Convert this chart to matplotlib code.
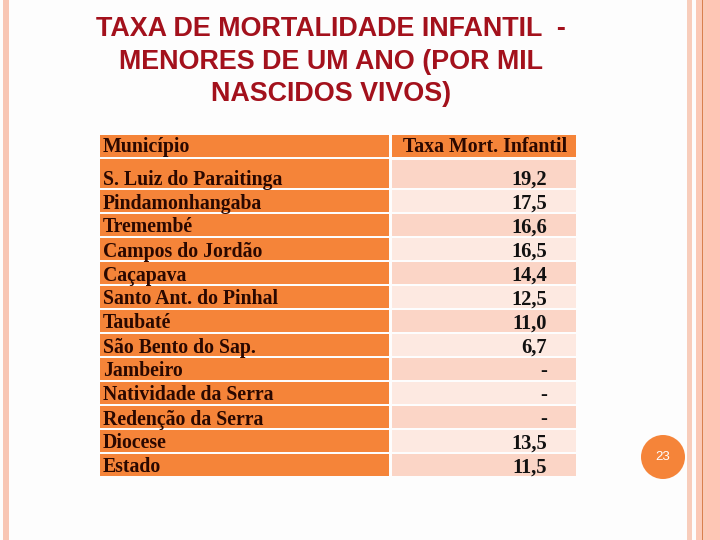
import matplotlib
matplotlib.use("Agg")
import matplotlib.pyplot as plt
from matplotlib.patches import Rectangle, Circle

# ---- data ----
title_lines = ["TAXA DE MORTALIDADE INFANTIL  -",
               "MENORES DE UM ANO (POR MIL",
               "NASCIDOS VIVOS)"]
col_headers = ["Município", "Taxa Mort. Infantil"]
municipios = ["S. Luiz do Paraitinga", "Pindamonhangaba", "Tremembé",
              "Campos do Jordão", "Caçapava", "Santo Ant. do Pinhal",
              "Taubaté", "São Bento do Sap.", "Jambeiro",
              "Natividade da Serra", "Redenção da Serra", "Diocese", "Estado"]
taxas = [19.2, 17.5, 16.6, 16.5, 14.4, 12.5, 11.0, 6.7, None, None, None, 13.5, 11.5]
page_number = "23"

# ---- styles ----
ORANGE = "#F58439"
PINK_A = "#FBD5C6"
PINK_B = "#FDE9E1"
TITLE_RED = "#A3111C"
TXT_DARK = "#2A0800"

fig = plt.figure(figsize=(7.2, 5.4), dpi=100)
ax = fig.add_axes([0, 0, 1, 1])
ax.set_xlim(0, 720)
ax.set_ylim(540, 0)
ax.axis("off")
fig.patch.set_facecolor("#FDFDFD")

# decorative stripes
ax.add_patch(Rectangle((3, 0), 6, 540, color="#F8C6B4", lw=0))
ax.add_patch(Rectangle((687, 0), 5, 540, color="#F8CDBB", lw=0))
ax.add_patch(Rectangle((696, 0), 24, 540, color="#FBC9B6", lw=0))
ax.add_patch(Rectangle((707, 0), 13, 540, color="#FEC6B5", lw=0))
ax.add_patch(Rectangle((701.5, 0), 1.2, 540, color="#D9804E", lw=0))

# title
for i, line in enumerate(title_lines):
    ax.text(331, 29.5 + 32.2 * i, line, ha="center", va="center",
            fontsize=19.4, fontweight="bold", color=TITLE_RED,
            family="Liberation Sans")

# table geometry
LX0, LX1 = 100, 389
RX0, RX1 = 392, 576
serif = "Liberation Serif"
FS = 14.2

# header
ax.add_patch(Rectangle((LX0, 135), LX1 - LX0, 21.5, color=ORANGE, lw=0))
ax.add_patch(Rectangle((RX0, 135), RX1 - RX0, 21.5, color=ORANGE, lw=0))
ax.text(103, 152, col_headers[0], ha="left", va="baseline", fontsize=14.3,
        fontweight="bold", family=serif, color=TXT_DARK)
ax.text(RX1 - 9, 152, col_headers[1], ha="right", va="baseline", fontsize=14.3,
        fontweight="bold", family=serif, color=TXT_DARK)

# rows
for i, (name, val) in enumerate(zip(municipios, taxas)):
    top = 190 + 24 * (i - 1) if i else 158.5
    bottom = 212 + 24 * (i - 1) if i else 188
    ax.add_patch(Rectangle((LX0, top), LX1 - LX0, bottom - top, color=ORANGE, lw=0))
    rtop = top if i else 160
    ax.add_patch(Rectangle((RX0, rtop), RX1 - RX0, bottom - rtop,
                           color=PINK_A if i % 2 == 0 else PINK_B, lw=0))
    base = 184.5 + 24 * i
    ax.text(103, base, name, ha="left", va="baseline", fontsize=FS,
            fontweight="bold", family=serif, color=TXT_DARK)
    label = "-" if val is None else f"{val:.1f}".replace(".", ",")
    ax.text(547, base, label, ha="right", va="baseline", fontsize=14.8,
            fontweight="bold", family=serif, color="#111111")

# page number
ax.add_patch(Circle((663, 457), 22, color=ORANGE, lw=0))
ax.text(663, 457, page_number, ha="center", va="center", fontsize=9.5,
        color="white", family="Liberation Sans")

fig.savefig("out.png", dpi=100, facecolor=fig.get_facecolor())
